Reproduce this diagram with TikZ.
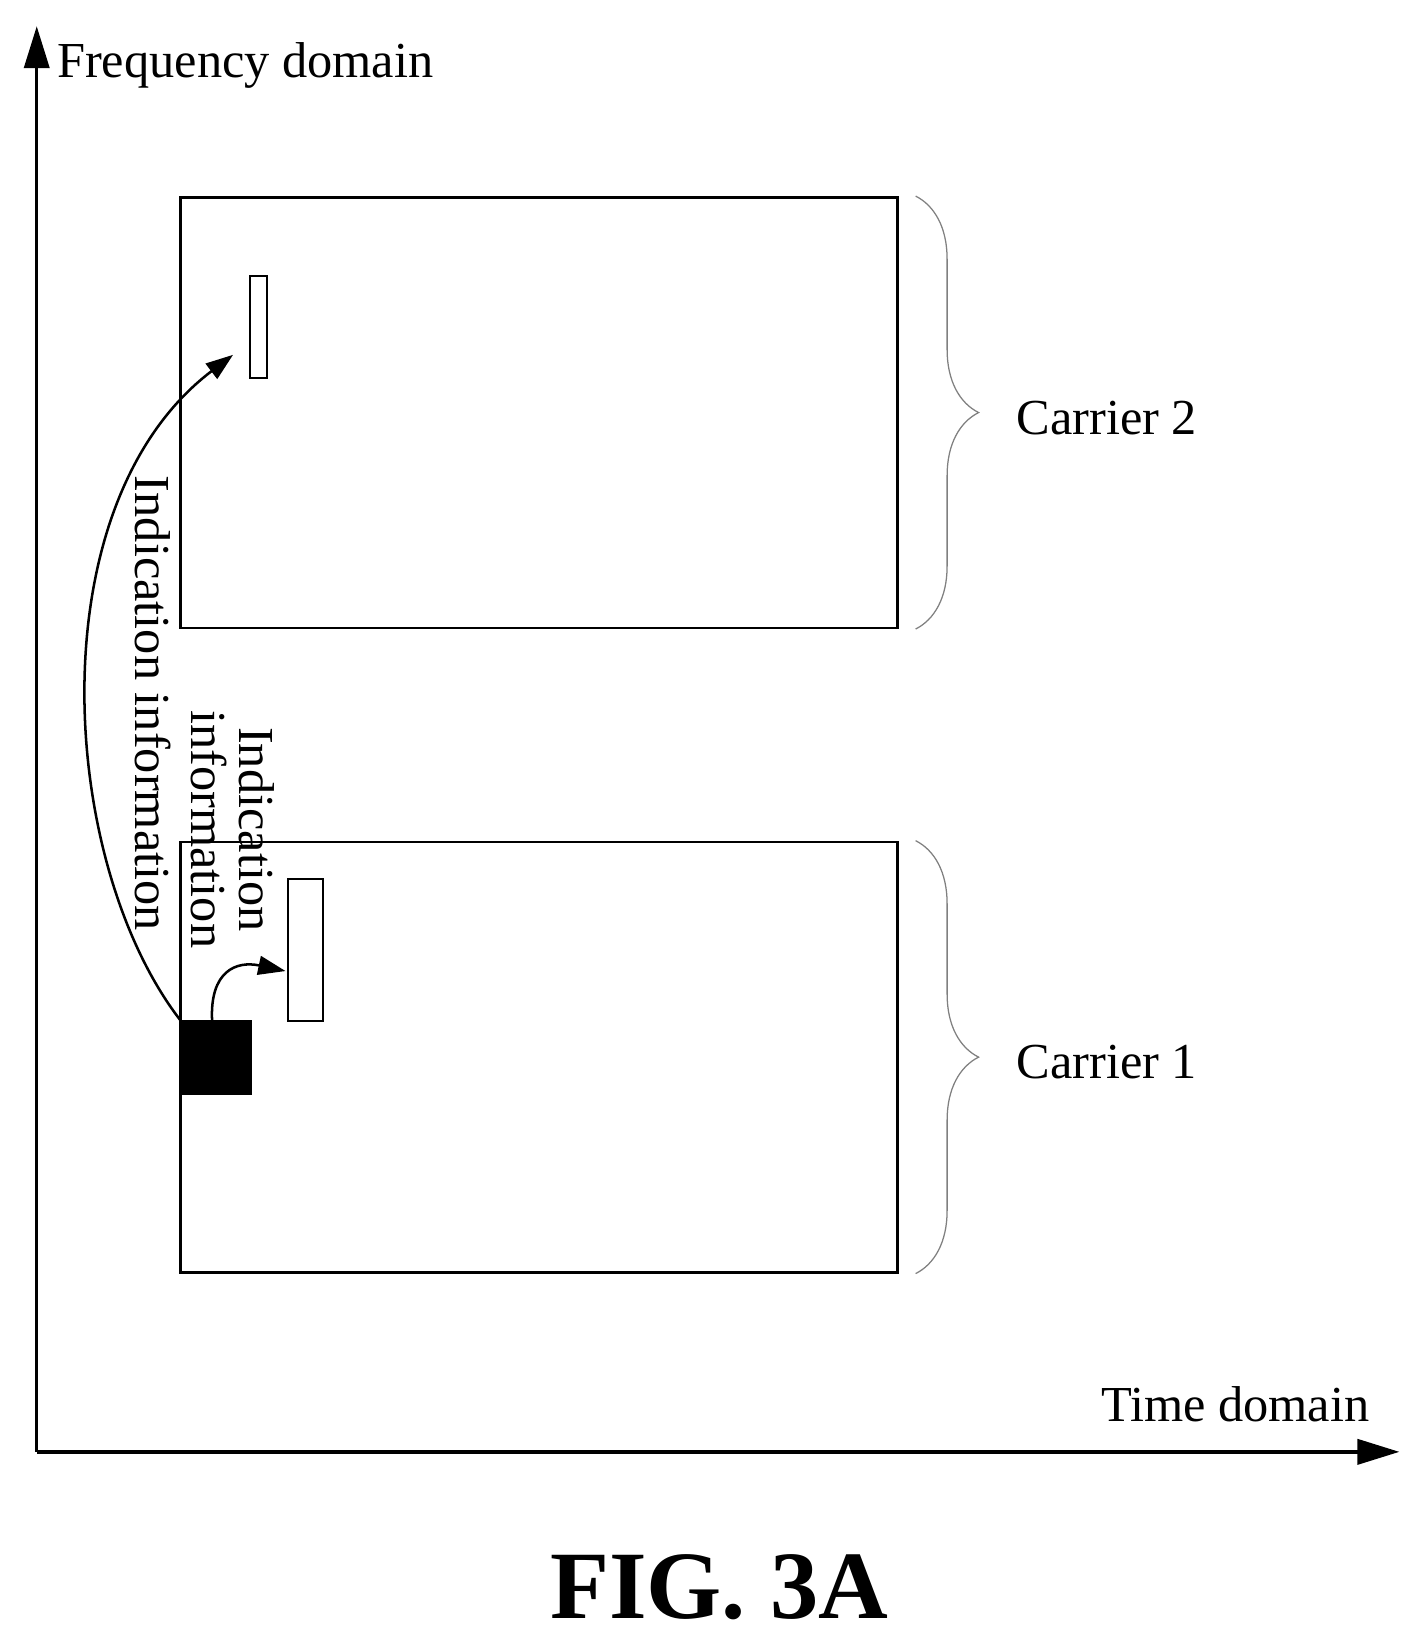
\documentclass[tikz,border=0pt]{standalone}
\usepackage{fontspec}
\setmainfont{Liberation Serif}
\usetikzlibrary{decorations.pathreplacing,arrows.meta}
\begin{document}
\begin{tikzpicture}[x=0.5pt,y=-0.5pt,
  box/.style={draw,line width=1.2pt},
  lbl/.style={font=\fontsize{24}{26}\selectfont,inner sep=0pt},
  axis/.style={line width=1.6pt,-{Triangle[length=20pt,width=12pt]}},
  brc/.style={draw=gray,line width=0.6pt,decorate,decoration={brace,amplitude=30}},
  arr/.style={line width=1.2pt,-{Triangle[length=13pt,width=9pt]}}]
\useasboundingbox (0,0) rectangle (1349,1567);
\coordinate (o) at (35,1383);
\coordinate (ytip) at (35,25);
\coordinate (xtip) at (1333,1383);
\draw[axis] (o) -- (ytip);
\draw[axis] (o) -- (xtip);
\node[lbl,anchor=west] (fd) at (54,62) {Frequency domain};
\node[lbl,anchor=east] (td) at (1305,1338) {Time domain};
\node[box,minimum width=341.5pt,minimum height=205pt,inner sep=0pt] (c2) at (513.5,393) {};
\node[box,minimum width=341.5pt,minimum height=205pt,inner sep=0pt] (c1) at (513.5,1007) {};
\draw[brc] ([xshift=8]c2.north east) -- ([xshift=8]c2.south east);
\draw[brc] ([xshift=8]c1.north east) -- ([xshift=8]c1.south east);
\node[lbl,anchor=west] (l2) at (968,398) {Carrier 2};
\node[lbl,anchor=west] (l1) at (968,1012) {Carrier 1};
\node[draw,line width=1pt,minimum width=8pt,minimum height=48.5pt,inner sep=0pt] (r2) at (246,311.5) {};
\node[draw,line width=1pt,minimum width=17pt,minimum height=68pt,inner sep=0pt] (r1) at (291,905) {};
\node[fill=black,minimum width=34pt,minimum height=35.5pt,inner sep=0pt] (blk) at (206,1007.5) {};
\draw[arr] (blk.north west) .. controls (55,820) and (35,480) .. (222,338);
\draw[arr] ([xshift=-2]blk.north) .. controls (200,925) and (225,915) .. (272,925);
\node[lbl,rotate=-90] (t1) at (146,670) {Indication information};
\node[lbl,rotate=-90,align=center] (t2) at (222,790) {Indication\\[-3pt]information};
\node[font=\bfseries\fontsize{46}{52}\selectfont] (fig) at (685,1512) {FIG. 3A};
\end{tikzpicture}
\end{document}
